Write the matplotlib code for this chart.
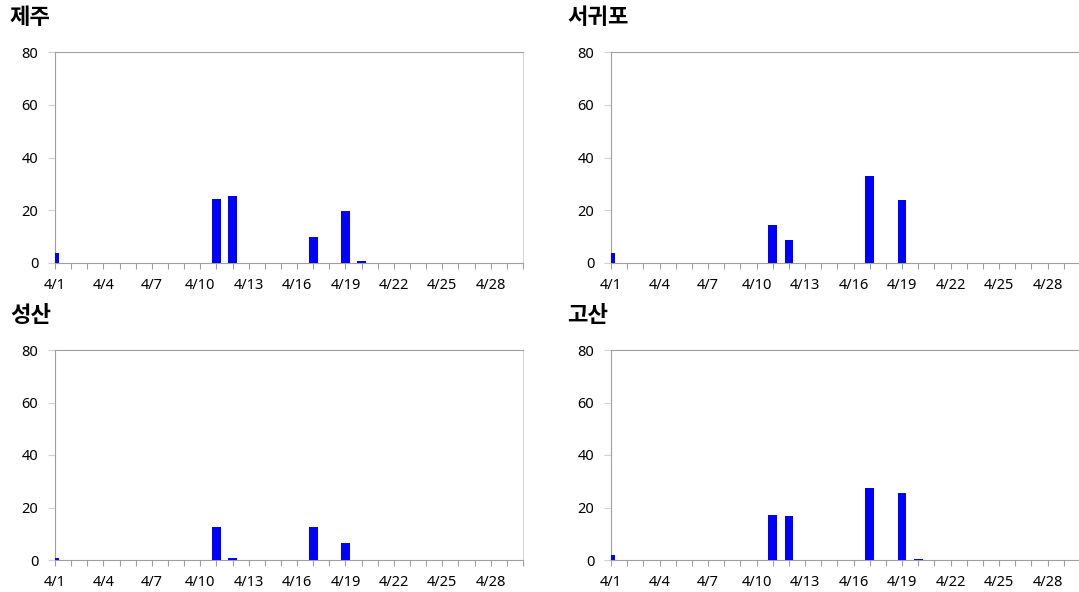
import matplotlib
matplotlib.use("Agg")
import matplotlib.pyplot as plt
from matplotlib.ticker import FixedLocator, MultipleLocator

plt.rcParams['font.family'] = ['Noto Sans', 'Noto Sans CJK KR', 'DejaVu Sans']

# Days of April and daily values per station
days = list(range(1, 31))
day_labels = ['4/%d' % d if (d - 1) % 3 == 0 else '' for d in days]

jeju = [3.8, 0, 0, 0, 0, 0, 0, 0, 0, 0, 24.3, 25.5, 0, 0, 0, 0, 9.9, 0, 19.8, 0.7,
        0, 0, 0, 0, 0, 0, 0, 0, 0, 0]
seogwipo = [3.7, 0, 0, 0, 0, 0, 0, 0, 0, 0, 14.3, 8.8, 0, 0, 0, 0, 32.9, 0, 24.0, 0,
            0, 0, 0, 0, 0, 0, 0, 0, 0, 0]
seongsan = [0.6, 0, 0, 0, 0, 0, 0, 0, 0, 0, 12.7, 0.6, 0, 0, 0, 0, 12.7, 0, 6.6, 0,
            0, 0, 0, 0, 0, 0, 0, 0, 0, 0]
gosan = [1.8, 0, 0, 0, 0, 0, 0, 0, 0, 0, 17.0, 16.6, 0, 0, 0, 0, 27.5, 0, 25.7, 0.5,
         0, 0, 0, 0, 0, 0, 0, 0, 0, 0]

stations = ['제주', '서귀포', '성산', '고산']
series = [jeju, seogwipo, seongsan, gosan]

fig = plt.figure(figsize=(10.79, 5.92), dpi=100)

# axes boxes in pixels: left, top, right, bottom
boxes = [(55, 52, 523, 263), (611, 52, 1080, 263),
         (55, 350, 523, 560), (611, 350, 1080, 560)]
title_pos = [(10, 18), (567, 18), (10, 316), (567, 316)]

for name, vals, box, tpos in zip(stations, series, boxes, title_pos):
    l, t, r, b = box
    ax = fig.add_axes([l / 1079, (592 - b) / 592, (r - l) / 1079, (b - t) / 592])
    ax.bar(days, vals, width=0.54, color='#0000ff', zorder=3)
    ax.set_xlim(1, 30)
    ax.set_ylim(0, 80)

    ax.xaxis.set_major_locator(FixedLocator(days))
    ax.set_xticklabels(day_labels)
    ax.yaxis.set_major_locator(MultipleLocator(20))
    ax.tick_params(axis='x', length=4, color='#a0a0a0', labelsize=10.5, pad=6.5)
    ax.tick_params(axis='y', length=5, color='#d0d0d0', labelsize=10.5, pad=7)

    for side in ['top', 'left', 'bottom']:
        ax.spines[side].set_color('#a0a0a0')
        ax.spines[side].set_linewidth(0.8)
    ax.spines['right'].set_color('#d8d8d8')
    ax.spines['right'].set_linewidth(0.8)

    fig.text(tpos[0] / 1079, 1 - tpos[1] / 592, name, fontsize=16,
             fontweight='bold', ha='left', va='center',
             family=['Noto Sans CJK KR', 'DejaVu Sans'])

plt.savefig('out.png', dpi=100)
